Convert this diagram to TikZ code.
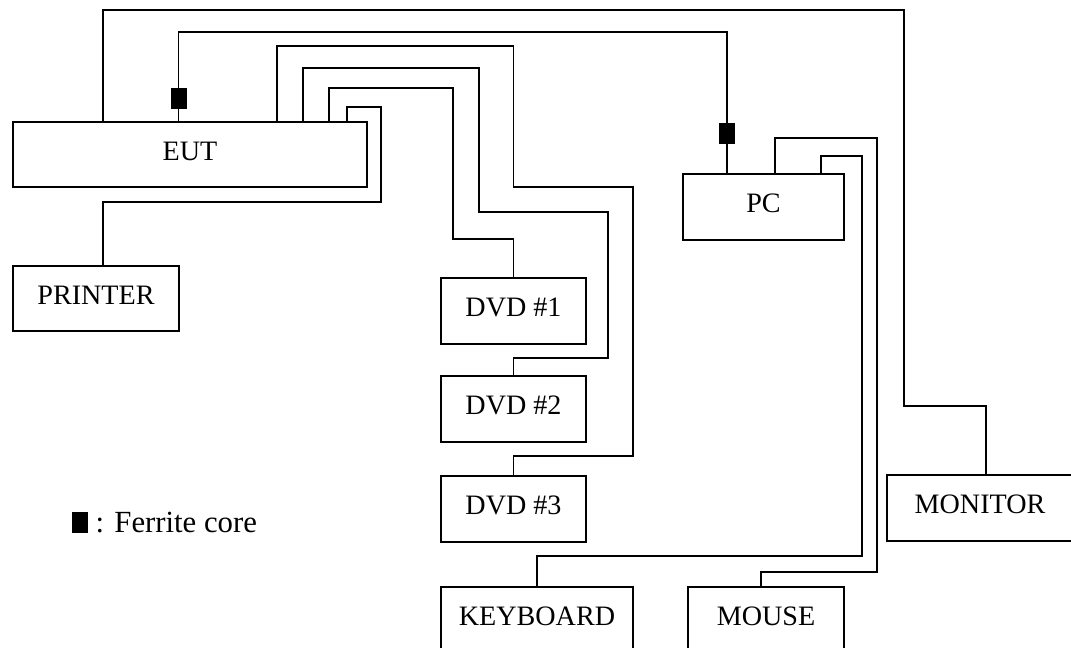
\documentclass[tikz,border=0pt]{standalone}
\usepackage{fontspec}
\setmainfont{Liberation Serif}
\usetikzlibrary{positioning}

\begin{document}
\begin{tikzpicture}[x=0.2mm,y=-0.2mm,line width=1pt,font=\fontsize{16}{19}\selectfont,
    box/.style 2 args={draw,minimum width=#1*0.2mm,minimum height=#2*0.2mm,inner sep=0pt,outer sep=0pt,text height=11pt,text depth=4.5pt},
    wire/.style={draw},
    ferrite/.style={fill=black,minimum width=16*0.2mm,minimum height=21*0.2mm,inner sep=0pt}]
    \clip[use as bounding box] (0,0) rectangle (1071,648);
    % units
    \node[box={354}{65}] (eut) at (190,154.5) {EUT};
    \node[box={166}{65}] (printer) at (96,298.5) {PRINTER};
    \foreach \n/\y in {1/311,2/409,3/509}
        \node[box={145}{66}] (dvd\n) at (513.5,\y) {DVD \#\n};
    \node[box={161}{66}] (pc) at (763.5,207) {PC};
    \node[box={186}{66}] (monitor) at (980,508) {MONITOR};
    \node[box={192}{66}] (keyboard) at (537,620) {KEYBOARD};
    \node[box={156}{66}] (mouse) at (766,620) {MOUSE};
    % cables from EUT
    \draw[wire] (eut.north -| 103,0) |- (904,10) |- (986,406) -- (monitor.north -| 986,0);
    \draw[wire] (eut.north -| 178.5,0) |- (727,32) -- (pc.north -| 727,0);
    \draw[wire] (eut.north -| 277,0) |- (513.5,46) |- (633,187) |- (513.5,456) -- (dvd3.north);
    \draw[wire] (eut.north -| 303,0) |- (479,68) |- (608,212) |- (513.5,358) -- (dvd2.north);
    \draw[wire] (eut.north -| 329,0) |- (453,88) |- (513.5,239) -- (dvd1.north);
    \draw[wire] (eut.north -| 347,0) |- (381,107) |- (103,202) -- (printer.north -| 103,0);
    % cables from PC
    \draw[wire] (pc.north -| 821,0) |- (862,156) |- (537,556) -- (keyboard.north);
    \draw[wire] (pc.north -| 775,0) |- (877,138) |- (761,572) -- (mouse.north -| 761,0);
    % ferrite cores
    \node[ferrite] (fe1) at (178.5,98.5) {};
    \node[ferrite] (fe2) at (727,133.5) {};
    % legend
    \node[ferrite] (key) at (80,522.5) {};
    \node[right=0pt of key,font=\fontsize{17.5}{20}\selectfont] (keytext) {: Ferrite core};
\end{tikzpicture}
\end{document}
